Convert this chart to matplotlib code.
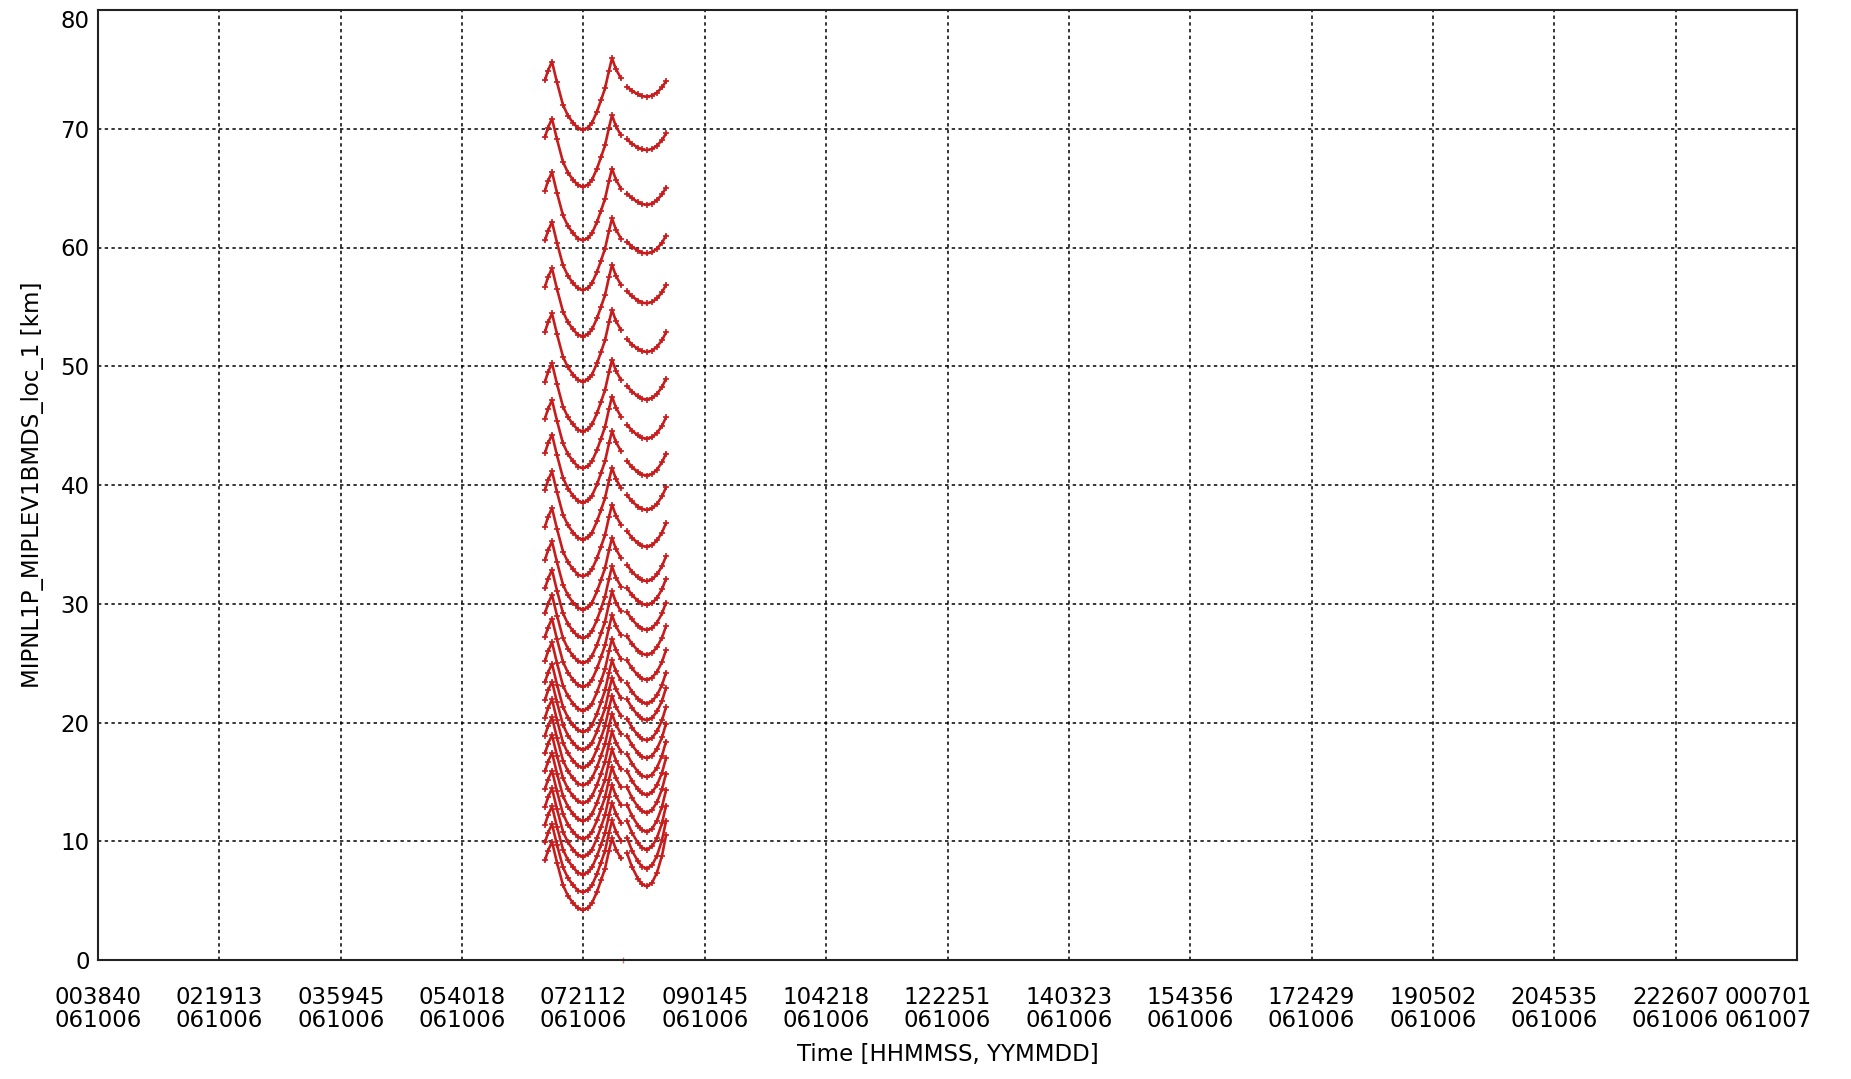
import matplotlib.pyplot as plt
import numpy as np
from matplotlib.transforms import ScaledTranslation

plt.rcParams['font.family'] = ['DejaVu Sans']


def secs(s):
    # 'HHMMSS' -> seconds of day 061006
    return int(s[0:2]) * 3600 + int(s[2:4]) * 60 + int(s[4:6])


# x tick labels (time, date)
tick_time = ['003840', '021913', '035945', '054018', '072112', '090145', '104218', '122251',
             '140323', '154356', '172429', '190502', '204535', '222607', '000701']
tick_date = ['061006'] * 14 + ['061007']

# first group of scans: V-shaped sweeps
v_times = ['064912', '065141', '065500', '065909', '070407', '070816', '071225', '071633', '072042',
           '072451', '072810', '073218', '073537', '073857', '074215', '074444', '074803', '075212']
v_offset = [4.2, 5.0, 5.75, 4.0, 2.1, 1.2, 0.6, 0.15, 0.0, 0.2, 0.6, 1.55, 2.5, 3.5, 5.0, 6.05, 5.1, 4.35]
v_min = [4.2, 5.7, 7.2, 8.7, 10.2, 11.7, 13.2, 14.7, 16.2, 17.7, 19.2, 21.0, 23.0, 25.0, 27.1,
         29.5, 32.3, 35.4, 38.5, 41.4, 44.5, 48.7, 52.5, 56.4, 60.6, 65.1, 69.9]

# second group of scans: U-shaped sweeps
u_times = ['075710', '080119', '080617', '080936', '081345', '081754', '082202', '082611', '082930']
u_shape = [0.65, 0.38, 0.15, 0.04, 0.0, 0.07, 0.27, 0.6, 1.0]
u_min = [6.2, 7.7, 9.3, 10.8, 12.4, 13.9, 15.4, 17.0, 18.5, 20.2, 21.6, 23.6, 25.7, 27.8, 29.9,
         31.9, 34.8, 37.9, 40.8, 43.9, 47.2, 51.2, 55.3, 59.5, 63.6, 68.2, 72.7]
u_rise = [4.3, 4.0, 3.7, 3.5, 3.3, 3.1, 3.0, 2.9, 2.8, 2.7, 2.6, 2.5, 2.4, 2.3, 2.2,
          2.1, 2.0, 1.9, 1.85, 1.8, 1.75, 1.65, 1.55, 1.5, 1.45, 1.4, 1.3]

stray_time = '075351'
stray_alt = 0.0

red = '#c81c1c'

t0 = secs(tick_time[0])
t1 = secs(tick_time[-1]) + 86400

fig = plt.figure(figsize=(18.51, 10.79), dpi=100)
ax = fig.add_axes([98 / 1851, 1 - 960 / 1079, 1699 / 1851, 950 / 1079])

vt = np.array([secs(s) for s in v_times])
for m in v_min:
    ax.plot(vt, m + np.array(v_offset), color=red, lw=1.9, marker='+', ms=4, mew=1.2)

ut = np.array([secs(s) for s in u_times])
for m, r in zip(u_min, u_rise):
    ax.plot(ut, m + r * np.array(u_shape), color=red, lw=1.9, marker='+', ms=4, mew=1.2)

ax.plot([secs(stray_time)], [stray_alt], marker='|', color='#c08080', ms=4, clip_on=False)

ax.set_xlim(t0, t1)
ax.set_ylim(0, 80)
xt = np.linspace(t0, t1, 15)
ax.set_xticks(xt)
ax.set_xticklabels([a + '\n' + b for a, b in zip(tick_time, tick_date)], fontsize=16.5, linespacing=1.0)
ax.set_yticks(range(0, 90, 10))
ax.tick_params(axis='x', length=0, pad=19)
ax.tick_params(axis='y', length=0, pad=6, labelsize=16.5)
ax.grid(True, color='black', linestyle=(0, (2.2, 2.2)), linewidth=1.1)

labs = ax.get_xticklabels()
labs[-1].set_transform(labs[-1].get_transform() + ScaledTranslation(-0.29, 0, fig.dpi_scale_trans))
ylabs = ax.get_yticklabels()
ylabs[-1].set_va('top')

for sp in ax.spines.values():
    sp.set_linewidth(1.5)
    sp.set_color('#222222')

ax.set_xlabel('Time [HHMMSS, YYMMDD]', fontsize=16.5, labelpad=8)
ax.set_ylabel('MIPNL1P_MIPLEV1BMDS_loc_1 [km]', fontsize=16.5, labelpad=12)

fig.savefig('out.png', dpi=100)
